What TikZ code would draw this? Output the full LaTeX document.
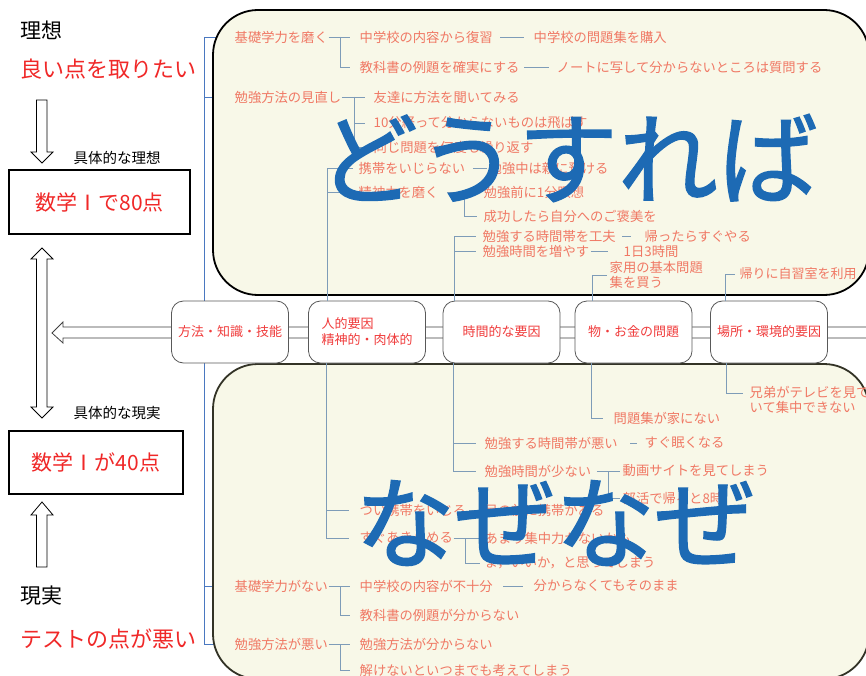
\documentclass[tikz,border=0pt]{standalone}
\usepackage{fontspec}
\setmainfont{Noto Sans CJK JP}
\newfontfamily\heavyjp[FakeBold=1.4]{Noto Sans CJK JP}
\usetikzlibrary{calc}
\pgfdeclarelayer{background}
\pgfsetlayers{background,main}
\definecolor{cream}{HTML}{F8F8E8}
\definecolor{salmon}{HTML}{F07864}
\definecolor{catred}{HTML}{F03C3C}
\definecolor{bigred}{HTML}{F02828}
\definecolor{conc}{HTML}{7E9CB8}
\definecolor{mainblue}{HTML}{4A78C0}
\definecolor{bigblue}{HTML}{1D6AB4}
\definecolor{boxedge}{HTML}{333326}
\begin{document}
\begin{tikzpicture}[x=1pt,y=-1pt,
  txt/.style={anchor=west,inner sep=0.5pt,text=salmon,font=\fontsize{13.3}{15}\selectfont},
  con/.style={draw=conc,line width=0.9pt},
  br/.style={con,shorten >=9pt},
  dl/.style={con,shorten <=7pt,shorten >=9pt},
  mainline/.style={draw=mainblue,line width=0.9pt},
  catbox/.style={draw=black!65,fill=white,line width=0.8pt,rounded corners=12pt,minimum width=117,minimum height=62,text=catred,align=left,font=\fontsize{13}{16}\selectfont},
  hollow/.style={draw=black,fill=white,line width=0.8pt,line join=miter},
  goalbox/.style={draw=black,fill=white,line width=2.6pt,text=bigred,font=\fontsize{21}{24}\selectfont},
  leftlbl/.style={anchor=west,inner sep=0pt,font=\fontsize{21}{24}\selectfont},
  sublbl/.style={inner sep=0pt,font=\fontsize{14.5}{16}\selectfont},
  bigtxt/.style={text=bigblue,inner sep=0pt,font=\heavyjp\fontsize{100}{100}\selectfont}
]
\path[use as bounding box] (0,0) rectangle (866,676);
\clip (0,0) rectangle (866,676);

% containers
\draw[fill=cream,draw=black,line width=1.8pt,rounded corners=45pt] (213,10) rectangle (869,295);
\draw[fill=cream,draw=boxedge,line width=1.8pt,rounded corners=45pt] (213,364) rectangle (869,679);

% main items
\node[txt] (a1) at (234,37) {基礎学力を磨く};
\node[txt] (a2) at (234,97) {勉強方法の見直し};
\node[txt] (i1) at (234,586) {基礎学力がない};
\node[txt] (j1) at (234,644) {勉強方法が悪い};

% main blue line (behind the containers)
\begin{pgfonlayer}{background}
\fill[white] (0,0) rectangle (866,676);
\draw[mainline] ($(a1.west)+(-30,0)$) -- ($(j1.west)+(-30,0)$);
\foreach \n in {a1,a2,i1,j1}{\draw[mainline,shorten >=11pt] ($(\n.west)+(-30,0)$) -- (\n.west);}
\end{pgfonlayer}

% band + left arrow
\draw[hollow,draw=black!75] (52,333) -- (63,322) -- (63,327) -- (868,327) -- (868,338) -- (63,338) -- (63,343) -- cycle;

% category boxes
\node[catbox] (b1) at (230,332) {方法・知識・技能};
\node[catbox] (b2) at (367,332) {人的要因\\精神的・肉体的};
\node[catbox] (b3) at (501.5,332) {時間的な要因};
\node[catbox] (b4) at (633.5,332) {物・お金の問題};
\node[catbox] (b5) at (769,332) {場所・環境的要因};

% --- 方法・知識・技能 (top)
\node[txt] (a11) at (359,37) {中学校の内容から復習};
\node[txt] (a111) at (533,37) {中学校の問題集を購入};
\node[txt] (a12) at (359,67) {教科書の例題を確実にする};
\node[txt] (a121) at (556,67) {ノートに写して分からないところは質問する};
\draw[br] (a1.east) -- (a11.west);
\draw[br] ($(a1.east)+(12,0)$) |- (a12.west);
\draw[dl] (a11.east) -- (a111.west);
\draw[dl,shorten <=4pt,shorten >=7pt] (a12.east) -- (a121.west);

\node[txt] (a21) at (373,97) {友達に方法を聞いてみる};
\node[txt] (a22) at (373,123) {10分経って分からないものは飛ばす};
\node[txt] (a23) at (373,147) {同じ問題を何度も繰り返す};
\draw[con,shorten >=8pt] (a2.east) -- (a21.west);
\draw[con,shorten >=8pt] ($(a2.east)+(13,0)$) |- (a22.west);
\draw[con,shorten >=8pt] ($(a2.east)+(13,0)$) |- (a23.west);

% --- 人的要因 (top)
\node[txt] (c1) at (358,168) {携帯をいじらない};
\node[txt] (c11) at (488,168) {勉強中は親に預ける};
\node[txt] (c2) at (358,192) {精神力を磨く};
\node[txt] (c21) at (483,192) {勉強前に1分瞑想};
\node[txt] (c22) at (483,216) {成功したら自分へのご褒美を};
\draw[con,shorten >=5pt] ($(b2.north west)+(19,0)$) |- (c1.west);
\draw[con,shorten >=5pt] ($(b2.north west)+(19,0)$) |- (c2.west);
\draw[con,shorten <=7pt,shorten >=1pt] (c1.east) -- (c11.west);
\draw[con,shorten <=8pt,shorten >=6pt] (c2.east) -- (c21.west);
\draw[con,shorten >=6pt] ($(c2.east)+(25,0)$) |- (c22.west);

% --- 時間的な要因 (top)
\node[txt] (d1) at (482,236) {勉強する時間帯を工夫};
\node[txt] (d11) at (644,236) {帰ったらすぐやる};
\node[txt] (d2) at (482,251) {勉強時間を増やす};
\node[txt] (d21) at (623,251) {1日3時間};
\draw[con,shorten >=6pt] ($(b3.north west)+(12,0)$) |- (d1.west);
\draw[con,shorten >=6pt] ($(b3.north west)+(12,0)$) |- (d2.west);
\draw[con,shorten <=6pt,shorten >=13pt] (d1.east) -- (d11.west);
\draw[con,shorten <=1pt,shorten >=15pt] (d2.east) -- (d21.west);

% --- 物・お金 (top)
\node[txt,align=left] (e1) at (609,275) {家用の基本問題\\集を買う};
\draw[con,shorten >=2pt] ($(b4.north west)+(18,0)$) |- (e1.west);

% --- 場所 (top)
\node[txt,font=\fontsize{13}{15}\selectfont] (f1) at (739,274) {帰りに自習室を利用};
\draw[con,shorten >=4pt] ($(b5.north west)+(15,0)$) |- (f1.west);

% --- 場所 (bottom)
\node[txt,align=left,anchor=north west] (f2) at (749,386) {兄弟がテレビを見て\\いて集中できない};
\draw[con,shorten >=6pt] ($(b5.south west)+(16,0)$) |- ($(f2.north west)+(0,7)$);

% --- 物・お金 (bottom)
\node[txt] (e2) at (613,418) {問題集が家にない};
\draw[con,shorten >=10pt] ($(b4.south west)+(17,0)$) |- (e2.west);

% --- 時間的な要因 (bottom)
\node[txt] (g1) at (484,443) {勉強する時間帯が悪い};
\node[txt] (g11) at (644,443) {すぐ眠くなる};
\node[txt] (g2) at (484,471) {勉強時間が少ない};
\node[txt] (g21) at (622,471) {動画サイトを見てしまう};
\node[txt] (g22) at (622,498) {部活で帰ると8時};
\draw[con,shorten >=8pt] ($(b3.south west)+(11,0)$) |- (g1.west);
\draw[con,shorten >=8pt] ($(b3.south west)+(11,0)$) |- (g2.west);
\draw[con,shorten <=12pt,shorten >=7pt] (g1.east) -- (g11.west);
\draw[con,shorten <=5pt,shorten >=2pt] (g2.east) -- (g21.west);
\draw[con,shorten >=2pt] ($(g2.east)+(17,0)$) |- (g22.west);

% --- 人的要因 (bottom)
\node[txt] (h1) at (359,510) {つい携帯をいじる};
\node[txt] (h11) at (484,510) {目の前に携帯がある};
\node[txt] (h2) at (359,538) {すぐあきらめる};
\node[txt] (h21) at (484,538) {あまり集中力がないかも};
\node[txt] (h22) at (484,563) {ま，いいか，と思ってしまう};
\draw[con,shorten >=10pt] ($(b2.south west)+(18,0)$) |- (h1.west);
\draw[con,shorten >=10pt] ($(b2.south west)+(18,0)$) |- (h2.west);
\draw[con,shorten <=2pt,shorten >=4pt] (h1.east) -- (h11.west);
\draw[con,shorten >=4pt] (h2.east) -- (h21.west);
\draw[con,shorten >=4pt] ($(h2.east)+(12,0)$) |- (h22.west);

% --- 方法・知識・技能 (bottom)
\node[txt] (i11) at (359,586) {中学校の内容が不十分};
\node[txt] (i111) at (533,586) {分からなくてもそのまま};
\node[txt] (i12) at (359,615) {教科書の例題が分からない};
\node[txt] (j11) at (359,644) {勉強方法が分からない};
\node[txt] (j12) at (359,670) {解けないといつまでも考えてしまう};
\draw[br] (i1.east) -- (i11.west);
\draw[br] ($(i1.east)+(12,0)$) |- (i12.west);
\draw[con,shorten <=10pt,shorten >=10pt] (i11.east) -- (i111.west);
\draw[br] (j1.east) -- (j11.west);
\draw[br] ($(j1.east)+(12,0)$) |- (j12.west);

% ---------- left column ----------
\node[leftlbl] (ideal) at (20,30) {理想};
\node[leftlbl,text=bigred,font=\fontsize{22}{24}\selectfont] (ideal2) at (20,69) {良い点を取りたい};
\node[goalbox,minimum width=181,minimum height=64] (g80) at (99.5,202) {数学Ⅰで80点};
\node[goalbox,minimum width=174,minimum height=63] (g40) at (96,462.5) {数学Ⅰが40点};
\node[sublbl] (s1) at (117,158) {具体的な理想};
\node[sublbl] (s2) at (117,413) {具体的な現実};
\node[leftlbl] (real) at (20,596) {現実};
\node[leftlbl,text=bigred,font=\fontsize{22}{24}\selectfont] (real2) at (20,639) {テストの点が悪い};

% down arrow
\draw[hollow] (36.5,100) -- (47,100) -- (47,152) -- (53,152) -- (42,163) -- (31,152) -- (36.5,152) -- cycle;
% double arrow
\draw[hollow] (42,248) -- (53,259) -- (47,259) -- (47,407) -- (53,407) -- (42,418) -- (31,407) -- (36.5,407) -- (36.5,259) -- (31,259) -- cycle;
% up arrow
\draw[hollow] (42,502) -- (53,515) -- (47,515) -- (47,567) -- (36.5,567) -- (36.5,515) -- (31,515) -- cycle;

% ---------- big overlay texts ----------
\node[bigtxt] (q1) at (568,158) {どうすれば};
\node[bigtxt] (q2) at (555,523) {なぜなぜ};
\end{tikzpicture}
\end{document}
